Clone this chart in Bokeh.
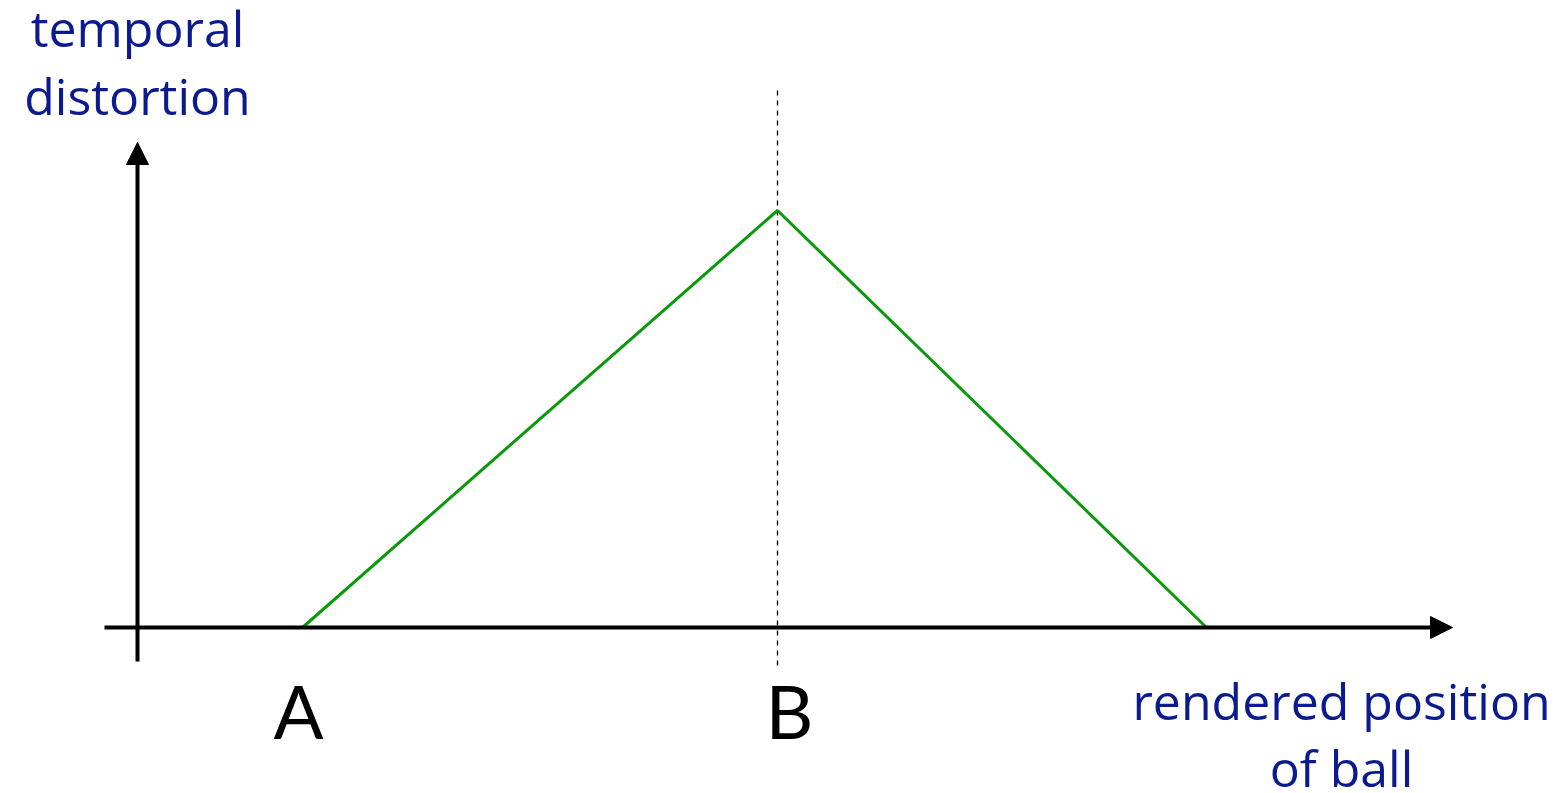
from bokeh.plotting import figure
from bokeh.models import Range1d, Arrow, NormalHead
from bokeh.core.properties import value
from bokeh.embed import file_html
from bokeh.resources import INLINE

# ---- data (diagram units: origin at the axes crossing) ----
curve_x = [165, 640, 1069]          # A, B, end of the distortion ramp
curve_y = [0, 417, 0]               # temporal distortion
marker_labels = ["A", "B"]
marker_x = [161, 652]
marker_y = [-83, -83]
marker_line_x = 640                 # dashed reference at B
x_axis_extent = [-33, 1315]
y_axis_extent = [-34, 485]
dashed_extent = [-38, 539]
y_title_lines = ["temporal", "distortion"]
y_title_y = [600, 532]
x_title_lines = ["rendered position", "of ball"]
x_title_y = [-73, -140]

BLUE = "#0b1a8e"
GREEN = "#0a990a"
FONT = "Open Sans"

W, H = 1566, 793
p = figure(width=W, height=H, output_backend="svg", toolbar_location=None,
           x_range=Range1d(-137, -137 + W), y_range=Range1d(627 - H, 627),
           min_border=0, outline_line_color=None)
p.axis.visible = False
p.grid.visible = False
p.background_fill_color = "white"

# dashed line at B
p.line([marker_line_x, marker_line_x], dashed_extent, line_color="black",
       line_width=1.3, line_dash="5 5")

# axes with arrows
p.add_layout(Arrow(x_start=x_axis_extent[0], y_start=0, x_end=x_axis_extent[1], y_end=0,
                   line_width=4, line_color="black",
                   end=NormalHead(size=22, fill_color="black", line_color="black", line_width=1)))
p.add_layout(Arrow(x_start=0, y_start=y_axis_extent[0], x_end=0, y_end=y_axis_extent[1],
                   line_width=4, line_color="black",
                   end=NormalHead(size=22, fill_color="black", line_color="black", line_width=1)))

# distortion curve
p.line(curve_x, curve_y, line_color=GREEN, line_width=3)

# labels
p.text(x=[0, 0], y=y_title_y, text=y_title_lines, text_font=value(FONT),
       text_font_size="50px", text_color=BLUE, text_align="center",
       text_baseline="alphabetic")
p.text(x=[1204, 1204], y=x_title_y, text=x_title_lines, text_font=value(FONT),
       text_font_size="50px", text_color=BLUE, text_align="center",
       text_baseline="alphabetic")
p.text(x=marker_x, y=marker_y, text=marker_labels, text_font=value("Lato"),
       text_font_size="74px", text_color="black", text_align="center",
       text_baseline="alphabetic")

open("out.html", "w").write(file_html(p, INLINE))
